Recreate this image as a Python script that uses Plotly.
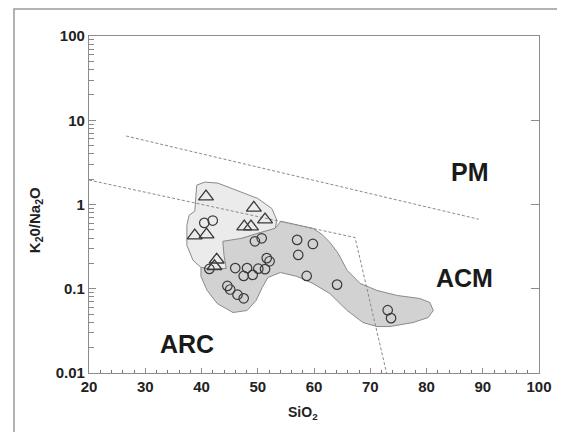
import math
import plotly.graph_objects as go

# ---- data (SiO2 wt%, K2O/Na2O) ----
circle_sio2 = [40.5, 42.0, 49.5, 50.7, 57.0, 59.8, 57.2, 41.4, 46.0, 48.1, 47.5, 49.1,
               50.1, 51.3, 51.6, 52.1, 44.6, 45.1, 46.4, 47.5, 58.7, 64.1, 73.1, 73.7]
circle_ratio = [0.605, 0.645, 0.366, 0.397, 0.380, 0.340, 0.252, 0.172, 0.176, 0.176, 0.142, 0.146,
                0.173, 0.171, 0.231, 0.212, 0.108, 0.098, 0.085, 0.077, 0.142, 0.112, 0.0557, 0.0448]

tri_sio2 = [40.8, 49.3, 51.3, 47.6, 48.8, 38.8, 40.9, 42.7, 42.3]
tri_ratio = [1.24, 0.914, 0.662, 0.547, 0.547, 0.428, 0.44, 0.221, 0.185]

# field boundaries
pm_line_sio2 = [26.6, 89.3]
pm_line_ratio = [6.5, 0.668]
arc_line_sio2 = [20.0, 67.3, 72.9]
arc_line_ratio = [1.95, 0.405, 0.01]

# sample envelopes
light_sio2 = [39.15, 40.6, 42.9, 46.5, 50.0, 52.5, 53.4, 53.1, 50.0, 47.2, 44.4, 44.4, 41.8,
              39.9, 38.5, 37.4, 37.4, 37.8, 38.8, 39.0, 39.15]
light_ratio = [1.698, 1.845, 1.794, 1.452, 1.179, 0.896, 0.650, 0.518, 0.455, 0.397, 0.327, 0.174, 0.170,
               0.179, 0.217, 0.327, 0.567, 0.746, 0.832, 1.125, 1.698]

dark_sio2 = [43.8, 47.2, 50.0, 53.1, 54.1, 57.5, 59.8, 61.4, 62.8, 64.3, 65.9, 68.2, 71.2, 74.8,
             78.8, 80.6, 81.2, 80.3, 77.6, 73.5, 71.2, 68.7, 65.9, 62.8, 59.8, 57.0, 54.0, 51.8,
             50.8, 49.7, 48.1, 45.6, 42.8, 41.0, 39.9, 39.9, 41.8, 44.4, 44.0, 43.8]
dark_ratio = [0.366, 0.397, 0.455, 0.522, 0.633, 0.567, 0.521, 0.442, 0.357, 0.263, 0.165, 0.1157,
              0.0955, 0.0832, 0.0766, 0.0687, 0.0552, 0.0455, 0.0397, 0.0356, 0.0356, 0.0397,
              0.0552, 0.0879, 0.1157, 0.140, 0.156, 0.136, 0.1035, 0.0726, 0.0552, 0.0522,
              0.0668, 0.0955, 0.140, 0.179, 0.170, 0.174, 0.249, 0.366]

field_labels = ["PM", "ACM", "ARC"]
field_label_sio2 = [87.7, 86.8, 37.4]
field_label_ratio = [2.42, 0.136, 0.0223]

x_ticks = [20, 30, 40, 50, 60, 70, 80, 90, 100]
y_ticks = [0.01, 0.1, 1, 10, 100]
y_tick_text = ["0.01", "0.1", "1", "10", "100"]
y_minor_ticks = [m * d for d in (0.01, 0.1, 1, 10) for m in (2, 3, 4, 5, 6, 7, 8, 9)]

FONT = "Liberation Sans"
AXC = "#8c8c8c"

fig = go.Figure()

fig.add_trace(go.Scatter(x=light_sio2, y=light_ratio, mode="lines", fill="toself",
                         fillcolor="#ebebeb", line=dict(color="#8a8a8a", width=1),
                         hoverinfo="skip", showlegend=False))
fig.add_trace(go.Scatter(x=dark_sio2, y=dark_ratio, mode="lines", fill="toself",
                         fillcolor="#d2d2d2", line=dict(color="#8a8a8a", width=1),
                         hoverinfo="skip", showlegend=False))
fig.add_trace(go.Scatter(x=pm_line_sio2, y=pm_line_ratio, mode="lines",
                         line=dict(color="#8a8a8a", width=1, dash="3px,2px"),
                         hoverinfo="skip", showlegend=False))
fig.add_trace(go.Scatter(x=arc_line_sio2, y=arc_line_ratio, mode="lines",
                         line=dict(color="#8a8a8a", width=1, dash="3px,2px"),
                         hoverinfo="skip", showlegend=False))
fig.add_trace(go.Scatter(x=circle_sio2, y=circle_ratio, mode="markers",
                         marker=dict(symbol="circle-open", size=9.5, color="#3a3a3a",
                                     line=dict(width=1.2)),
                         showlegend=False))
fig.add_trace(go.Scatter(x=tri_sio2, y=tri_ratio, mode="markers",
                         marker=dict(symbol="triangle-up-open", size=13, color="#3a3a3a",
                                     line=dict(width=1.3)),
                         showlegend=False))
# dummy traces so the mirror / minor-tick axes are drawn
fig.add_trace(go.Scatter(x=[20], y=[1], yaxis="y2", mode="markers",
                         marker=dict(opacity=0), hoverinfo="skip", showlegend=False))
fig.add_trace(go.Scatter(x=[20], y=[1], yaxis="y3", mode="markers",
                         marker=dict(opacity=0), hoverinfo="skip", showlegend=False))

for t, xs, ys in zip(field_labels, field_label_sio2, field_label_ratio):
    fig.add_annotation(x=xs, y=math.log10(ys), text=t, showarrow=False,
                       font=dict(family=FONT, size=25, color="#1a1a1a", weight="bold"))

fig.add_annotation(xref="paper", yref="paper", x=0.4756, y=-0.12, text="SiO<sub>2</sub>",
                   xanchor="center", yanchor="middle", showarrow=False,
                   font=dict(family=FONT, size=14, color="#222", weight="bold"))
fig.add_annotation(xref="paper", yref="paper", x=-0.12, y=0.4535,
                   text="K<sub>2</sub>0/Na<sub>2</sub>O", textangle=-90,
                   xanchor="center", yanchor="middle", showarrow=False,
                   font=dict(family=FONT, size=15, color="#222", weight="bold"))

# outer frame
fig.add_shape(type="rect", xref="paper", yref="paper", x0=-0.1667, y0=-0.3, x1=1.2, y1=1.08,
              line=dict(color="#9a9a9a", width=1.5), fillcolor="rgba(0,0,0,0)", layer="below")

fig.update_layout(
    width=557, height=424,
    margin=dict(l=81, r=26, t=28, b=59),
    paper_bgcolor="white", plot_bgcolor="white",
    showlegend=False,
    xaxis=dict(range=[20, 100], tickvals=x_ticks, ticks="inside", ticklen=5, tickcolor=AXC,
               showline=True, linecolor=AXC, linewidth=1.2, mirror=True, showgrid=False,
               zeroline=False,
               minor=dict(dtick=2, ticks="inside", ticklen=2.5, tickcolor="#777", showgrid=False),
               tickfont=dict(family=FONT, size=15, color="#222", weight="bold")),
    yaxis=dict(type="log", range=[-2, 2], tickvals=y_ticks, ticktext=y_tick_text,
               ticks="inside", ticklen=7, tickcolor=AXC, showline=True, linecolor=AXC,
               linewidth=1.2, showgrid=False, zeroline=False,
               tickfont=dict(family=FONT, size=15, color="#222", weight="bold")),
    yaxis2=dict(type="log", range=[-2, 2], overlaying="y", side="right", tickvals=y_ticks,
                ticks="inside", ticklen=8, tickcolor=AXC, showticklabels=False,
                showline=True, linecolor=AXC, linewidth=1.2, showgrid=False, zeroline=False),
    yaxis3=dict(type="log", range=[-2, 2], overlaying="y", side="left", tickvals=y_minor_ticks,
                ticks="inside", ticklen=5, tickcolor="#888", showticklabels=False,
                showline=False, showgrid=False, zeroline=False),
)

fig.write_html("out.html")
